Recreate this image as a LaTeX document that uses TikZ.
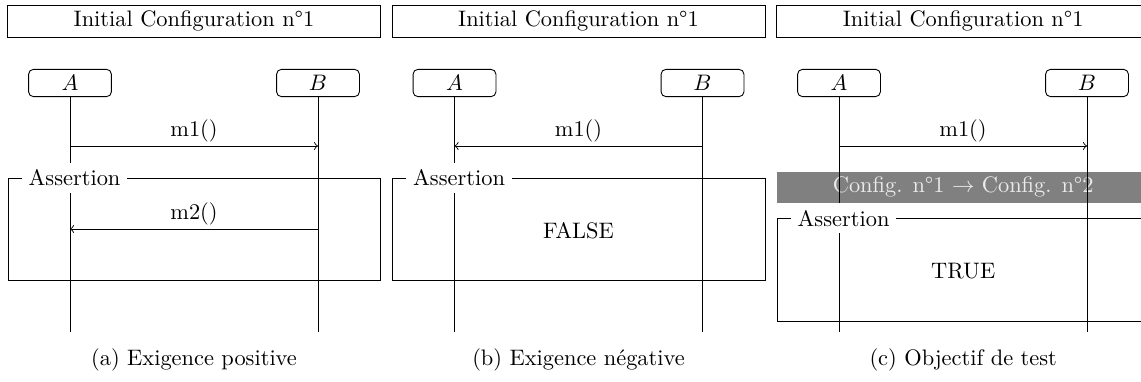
\documentclass[tikz,border=0pt]{standalone}
\begin{document}
\begin{tikzpicture}[x=0.4464pt,y=-0.4464pt,
  titlebox/.style={draw, minimum width=166.5pt, minimum height=14.3pt, inner sep=0pt},
  actor/.style={draw, rounded corners=2.2pt, minimum width=37pt, minimum height=12.2pt, inner sep=0pt},
  lifeline/.style={draw},
  msg/.style={->, >=to},
  msglabel/.style={fill=white, inner sep=1.5pt, anchor=south},
  frame/.style={draw, minimum width=166.5pt, minimum height=45.75pt, inner sep=0pt, anchor=north west},
  framelabel/.style={fill=white, inner sep=3pt, anchor=west},
  transition/.style={fill=black!50, text=black!8, minimum width=166.5pt, minimum height=14pt, inner sep=0pt},
  verdict/.style={inner sep=0pt},
  subcap/.style={inner sep=0pt}]
\clip (0,0) rectangle (1141,381);
% ---------- panel (a)
\node[titlebox] (a-t) at (194,21) {Initial Configuration n°1};
\node[actor] (a-A) at (70,83) {$A$};
\node[actor] (a-B) at (318,83) {$B$};
\coordinate (a-Ae) at (70,331.7);
\coordinate (a-Be) at (318,331.7);
\draw[lifeline] (a-A) -- (a-Ae);
\draw[lifeline] (a-B) -- (a-Be);
\coordinate (a-A1) at (70,146);
\coordinate (a-B1) at (318,146);
\coordinate (a-A2) at (70,229);
\coordinate (a-B2) at (318,229);
\node[frame] (a-f) at (7.5,177.7) {};
\node[framelabel] (a-fl) at (21.5,177.7) {Assertion};
\draw[msg] (a-A1) -- node[msglabel] (a-m1) {m1()} (a-B1);
\draw[msg] (a-B2) -- node[msglabel] (a-m2) {m2()} (a-A2);
\node[subcap] (a-cap) at (194,360) {(a) Exigence positive};
% ---------- panel (b)
\node[titlebox] (b-t) at (578.5,21) {Initial Configuration n°1};
\node[actor] (b-A) at (454.5,83) {$A$};
\node[actor] (b-B) at (702.5,83) {$B$};
\coordinate (b-Ae) at (454.5,331.7);
\coordinate (b-Be) at (702.5,331.7);
\draw[lifeline] (b-A) -- (b-Ae);
\draw[lifeline] (b-B) -- (b-Be);
\coordinate (b-A1) at (454.5,146);
\coordinate (b-B1) at (702.5,146);
\node[frame] (b-f) at (392,177.7) {};
\node[framelabel] (b-fl) at (406,177.7) {Assertion};
\draw[msg] (b-B1) -- node[msglabel] (b-m1) {m1()} (b-A1);
\node[verdict] (b-v) at (578.5,231) {FALSE};
\node[subcap] (b-cap) at (578.5,360) {(b) Exigence négative};
% ---------- panel (c)
\node[titlebox] (c-t) at (963.2,21) {Initial Configuration n°1};
\node[actor] (c-A) at (839,83) {$A$};
\node[actor] (c-B) at (1087,83) {$B$};
\node[transition] (c-tr) at (963.2,187.4) {Config. n°1 $\rightarrow$ Config. n°2};
\coordinate (c-Ae) at (839,331.7);
\coordinate (c-Be) at (1087,331.7);
\draw[lifeline] (c-A) -- (c-Ae);
\draw[lifeline] (c-B) -- (c-Be);
\coordinate (c-A1) at (839,146);
\coordinate (c-B1) at (1087,146);
\node[frame] (c-f) at (776.7,218.3) {};
\node[framelabel] (c-fl) at (790.5,218.3) {Assertion};
\draw[msg] (c-A1) -- node[msglabel] (c-m1) {m1()} (c-B1);
\node[verdict] (c-v) at (963.2,271) {TRUE};
\node[subcap] (c-cap) at (963.2,360) {(c) Objectif de test};
\end{tikzpicture}
\end{document}
